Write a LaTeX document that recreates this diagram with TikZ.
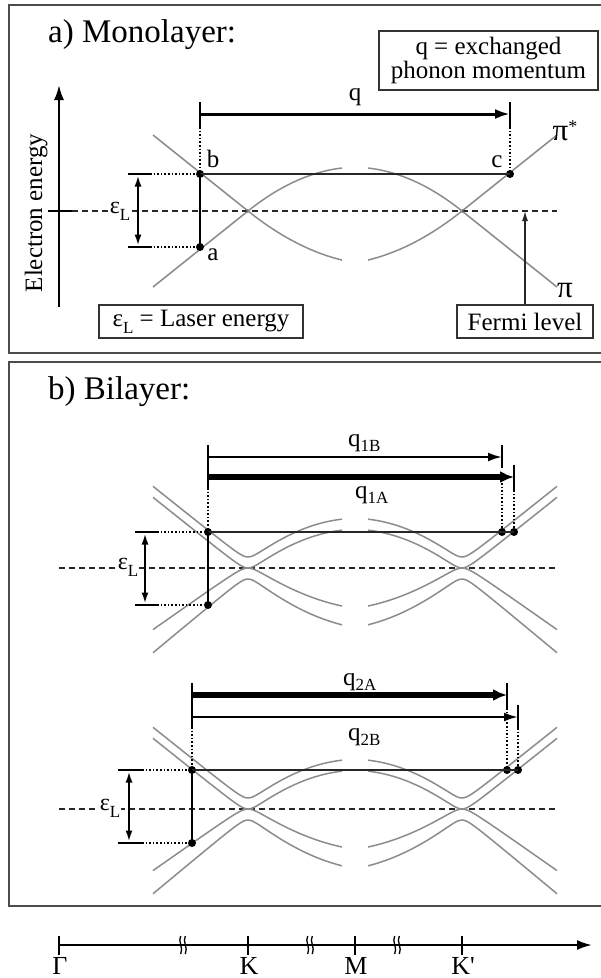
\documentclass[tikz,border=0pt]{standalone}
\usepackage{fontspec}
\setmainfont{Liberation Serif}
\usetikzlibrary{arrows.meta}
\newcommand\epsL{ε\raisebox{-7pt}{\fontsize{17}{17}\selectfont L}}
\newcommand\qs[1]{q\raisebox{-5pt}{\fontsize{17}{17}\selectfont #1}}
\tikzset{
 frame/.style={draw=black!70, line width=1.4pt},
 band/.style={draw=black!45, line width=1.5pt},
 fermi/.style={draw=black!85, line width=1.1pt, dash pattern=on 6pt off 4pt},
 dotline/.style={draw=black, line width=2pt, dash pattern=on 1.6pt off 2pt},
 tickline/.style={draw=black, line width=2.4pt},
 transit/.style={draw=black!85, line width=1.6pt},
 vtrans/.style={draw=black, line width=1.8pt},
 dotpt/.style={circle, fill=black, inner sep=0pt, minimum size=8pt},
 qarrow/.style={draw=black, line width=3pt, -{Latex[length=15pt,width=10pt]}},
 qthin/.style={draw=black, line width=2.3pt, -{Latex[length=14pt,width=9pt]}},
 qthick/.style={draw=black, line width=5.5pt, -{Latex[length=14pt,width=12pt]}},
 earrow/.style={draw=black, line width=2pt, {Latex[length=11pt,width=7pt]}-{Latex[length=11pt,width=7pt]}},
 axarrow/.style={draw=black, line width=2.2pt, -{Latex[length=15pt,width=10pt]}},
 thinarrow/.style={draw=black!85, line width=1.3pt, -{Latex[length=10pt,width=6pt]}},
 ttl/.style={inner sep=0pt, font=\fontsize{33}{33}\selectfont},
 lbl/.style={inner sep=0pt, font=\fontsize{25}{25}\selectfont},
 ptlbl/.style={inner sep=0pt, font=\fontsize{25}{25}\selectfont},
 pilbl/.style={inner sep=0pt, font=\fontsize{31}{31}\selectfont},
 epslbl/.style={inner sep=0.5pt, fill=white, font=\fontsize{24}{24}\selectfont},
 boxlbl/.style={draw=black!80, line width=1.2pt, inner sep=0pt, font=\fontsize{25}{25}\selectfont, align=center},
 brk/.style={draw=black, line width=1.3pt},
}
\begin{document}
\begin{tikzpicture}[x=1pt,y=-1pt,
 declare function={
  shu(\w)=(\w<0)?(-0.8*\w):(0.8*\w-0.003644*\w*\w);
  shl(\w)=(\w<0)?(-0.8*\w):(0.8*\w-0.002965*\w*\w);
  uo(\w)=sqrt(30.25+shu(\w)^2)+5.5;
  ui(\w)=sqrt(30.25+shu(\w)^2)-5.5;
  li(\w)=sqrt(30.25+(0.88*shl(\w))^2)-5.5;
  lo(\w)=sqrt(30.25+(1.04*shl(\w))^2)+5.5;
 }]
\clip (0,0) rectangle (601,978);
\fill[white] (0,0) rectangle (601,978);

% ---------- frames ----------
\draw[frame] (9,5) rectangle (605,353);
\draw[frame] (9,362) rectangle (605,906);
\node[ttl, anchor=base west] (ta) at (48,42) {a) Monolayer:};
\node[ttl, anchor=base west] (tb) at (48,399) {b) Bilayer:};

% ---------- panel a ----------
\coordinate (eaxbot) at (59,307);
\coordinate (eaxtop) at (59,85);
\draw[axarrow] (eaxbot) -- (eaxtop);
\coordinate (etl) at (48,211);
\coordinate (etr) at (72,211);
\draw[tickline, line width=2pt] (etl) -- (etr);
\node[lbl, rotate=90, anchor=base] (elab) at (42,213) {Electron energy};
\coordinate (fa1) at (72,211);
\coordinate (fa2) at (557,211);
\draw[fermi] (fa1) -- (fa2);

% bands
\draw[band] plot[domain=153:342,samples=70] (\x,{211-shu(\x-248)});
\draw[band] plot[domain=153:342,samples=70] ({710-\x},{211-shu(\x-248)});
\draw[band] plot[domain=153:342,samples=70] (\x,{211+shl(\x-248)});
\draw[band] plot[domain=153:342,samples=70] ({710-\x},{211+shl(\x-248)});

\node[pilbl, anchor=base] (pistar) at (565,140) {π\raisebox{8pt}{\fontsize{18}{18}\selectfont *}};
\node[pilbl, anchor=base] (pi) at (565,297) {π};

% q arrow
\coordinate (qa1t) at (200,102); \coordinate (qa1b) at (200,127);
\coordinate (qa2t) at (510,102); \coordinate (qa2b) at (510,127);
\draw[tickline] (qa1t) -- (qa1b);
\draw[tickline] (qa2t) -- (qa2b);
\coordinate (qas) at (200,114); \coordinate (qae) at (510,114);
\draw[qarrow] (qas) -- (qae);
\node[lbl, anchor=base] (qlab) at (355,100) {q};

% transition points
\node[dotpt] (pb) at (200,174) {};
\node[dotpt] (pa) at (200,247) {};
\node[dotpt] (pc) at (510,174) {};
\draw[dotline] (qa1b) -- (pb);
\draw[dotline] (qa2b) -- (pc);
\draw[transit] (pb.center) -- (pc.center);
\draw[vtrans] (pb.center) -- (pa.center);
\node[ptlbl, anchor=base] (lb) at (213,167) {b};
\node[ptlbl, anchor=base] (la) at (213,260) {a};
\node[ptlbl, anchor=base] (lc) at (497,167) {c};

% laser energy marker
\coordinate (et1l) at (128,174); \coordinate (et1r) at (150,174);
\coordinate (et2l) at (128,247); \coordinate (et2r) at (150,247);
\draw[tickline] (et1l) -- (et1r);
\draw[tickline] (et2l) -- (et2r);
\draw[dotline] (et1r) -- (pb);
\draw[dotline] (et2r) -- (pa);
\coordinate (ea1) at (138,175.5); \coordinate (ea2) at (138,245.5);
\draw[earrow] (ea1) -- (ea2);
\node[epslbl, anchor=base] (epsa) at (120,213) {\epsL};

% boxes
\node[boxlbl, minimum width=219pt, minimum height=59pt] (qbox) at (488.5,60.5) {q = exchanged\\[-1pt]phonon momentum};
\node[boxlbl, minimum width=204pt, minimum height=33pt] (lbox) at (201,321.5) {\epsL{} = Laser energy};
\node[boxlbl, minimum width=136pt, minimum height=33pt] (fbox) at (525,321.5) {Fermi level};
\coordinate (ftip) at (525,211);
\draw[thinarrow] (fbox.north) -- (ftip);

% ---------- panel b, upper ----------
\coordinate (f1a) at (59,568); \coordinate (f1b) at (557,568);
\draw[fermi] (f1a) -- (f1b);
\draw[band] plot[domain=153:342,samples=70] (\x,{568-uo(\x-248)});
\draw[band] plot[domain=153:342,samples=70] ({710-\x},{568-uo(\x-248)});
\draw[band] plot[domain=153:342,samples=70] (\x,{568-ui(\x-248)});
\draw[band] plot[domain=153:342,samples=70] ({710-\x},{568-ui(\x-248)});
\draw[band] plot[domain=153:342,samples=70] (\x,{568+li(\x-248)});
\draw[band] plot[domain=153:342,samples=70] ({710-\x},{568+li(\x-248)});
\draw[band] plot[domain=153:342,samples=70] (\x,{568+lo(\x-248)});
\draw[band] plot[domain=153:342,samples=70] ({710-\x},{568+lo(\x-248)});

\coordinate (u1t) at (208,445); \coordinate (u1b) at (208,488);
\draw[tickline] (u1t) -- (u1b);
\coordinate (u2t) at (502,445); \coordinate (u2b) at (502,468); \coordinate (u2d) at (502,483);
\draw[tickline] (u2t) -- (u2b);
\coordinate (u3t) at (514,465); \coordinate (u3b) at (514,490);
\draw[tickline] (u3t) -- (u3b);
\coordinate (q1bs) at (208,457); \coordinate (q1be) at (502,457);
\draw[qthin] (q1bs) -- (q1be);
\coordinate (q1as) at (208,477); \coordinate (q1ae) at (514,477);
\draw[qthick] (q1as) -- (q1ae);
\node[lbl, anchor=base west] (q1bl) at (348,446) {\qs{1B}};
\node[lbl, anchor=base west] (q1al) at (355,498) {\qs{1A}};

\node[dotpt] (ub) at (208,532) {};
\node[dotpt] (ua) at (208,605) {};
\node[dotpt] (uc1) at (502,532) {};
\node[dotpt] (uc2) at (514,532) {};
\draw[dotline] (u1b) -- (ub);
\draw[dotline] (u2d) -- (uc1);
\draw[dotline] (u3b) -- (uc2);
\draw[transit] (ub.center) -- (uc2.center);
\draw[vtrans] (ub.center) -- (ua.center);

\coordinate (ut1l) at (135,532); \coordinate (ut1r) at (157,532);
\coordinate (ut2l) at (135,605); \coordinate (ut2r) at (157,605);
\draw[tickline] (ut1l) -- (ut1r);
\draw[tickline] (ut2l) -- (ut2r);
\draw[dotline] (ut1r) -- (ub);
\draw[dotline] (ut2r) -- (ua);
\coordinate (uea1) at (145,533.5); \coordinate (uea2) at (145,603.5);
\draw[earrow] (uea1) -- (uea2);
\node[epslbl, anchor=base] (epsu) at (128,569) {\epsL};

% ---------- panel b, lower ----------
\coordinate (f2a) at (59,809); \coordinate (f2b) at (557,809);
\draw[fermi] (f2a) -- (f2b);
\draw[band] plot[domain=153:342,samples=70] (\x,{809-uo(\x-248)});
\draw[band] plot[domain=153:342,samples=70] ({710-\x},{809-uo(\x-248)});
\draw[band] plot[domain=153:342,samples=70] (\x,{809-ui(\x-248)});
\draw[band] plot[domain=153:342,samples=70] ({710-\x},{809-ui(\x-248)});
\draw[band] plot[domain=153:342,samples=70] (\x,{809+li(\x-248)});
\draw[band] plot[domain=153:342,samples=70] ({710-\x},{809+li(\x-248)});
\draw[band] plot[domain=153:342,samples=70] (\x,{809+lo(\x-248)});
\draw[band] plot[domain=153:342,samples=70] ({710-\x},{809+lo(\x-248)});

\coordinate (l1t) at (192,683); \coordinate (l1b) at (192,727);
\draw[tickline] (l1t) -- (l1b);
\coordinate (l2t) at (507,683); \coordinate (l2b) at (507,708);
\draw[tickline] (l2t) -- (l2b);
\coordinate (l3t) at (518,705); \coordinate (l3b) at (518,728);
\draw[tickline] (l3t) -- (l3b);
\coordinate (q2as) at (192,695); \coordinate (q2ae) at (507,695);
\draw[qthick] (q2as) -- (q2ae);
\coordinate (q2bs) at (192,717); \coordinate (q2be) at (518,717);
\draw[qthin] (q2bs) -- (q2be);
\node[lbl, anchor=base west] (q2al) at (343,685) {\qs{2A}};
\node[lbl, anchor=base west] (q2bl) at (348,740) {\qs{2B}};

\node[dotpt] (lb2) at (192,770) {};
\node[dotpt] (la2) at (192,843) {};
\node[dotpt] (lc1) at (507,770) {};
\node[dotpt] (lc2) at (518,770) {};
\draw[dotline] (l1b) -- (lb2);
\draw[dotline] (l2b) -- (lc1);
\draw[dotline] (l3b) -- (lc2);
\draw[transit] (lb2.center) -- (lc2.center);
\draw[vtrans] (lb2.center) -- (la2.center);

\coordinate (lt1l) at (118,770); \coordinate (lt1r) at (142,770);
\coordinate (lt2l) at (118,843); \coordinate (lt2r) at (142,843);
\draw[tickline] (lt1l) -- (lt1r);
\draw[tickline] (lt2l) -- (lt2r);
\draw[dotline] (lt1r) -- (lb2);
\draw[dotline] (lt2r) -- (la2);
\coordinate (lea1) at (129,771.5); \coordinate (lea2) at (129,841.5);
\draw[earrow] (lea1) -- (lea2);
\node[epslbl, anchor=base] (epsl) at (110,810) {\epsL};

% ---------- k axis ----------
\coordinate (kax0) at (59,945); \coordinate (kax1) at (592,945);
\draw[axarrow] (kax0) -- (kax1);
\foreach \kx/\kn/\kl in {59/G/Γ, 248/K/K, 355/M/M, 462/Kp/K\textquotesingle}{
  \coordinate (t\kn a) at (\kx,936);
  \coordinate (t\kn b) at (\kx,955);
  \draw[tickline, line width=2pt] (t\kn a) -- (t\kn b);
  \node[lbl, font=\fontsize{26}{26}\selectfont, anchor=base] (n\kn) at (\kx+1,974) {\kl};
}
\foreach \bx in {183,310,397}{
  \draw[brk] ({\bx-2.3},936) .. controls ({\bx-5.5},941) and ({\bx+0.9},948) .. ({\bx-2.3},954);
  \draw[brk] ({\bx+2.3},936) .. controls ({\bx-0.9},941) and ({\bx+5.5},948) .. ({\bx+2.3},954);
}
\end{tikzpicture}
\end{document}
